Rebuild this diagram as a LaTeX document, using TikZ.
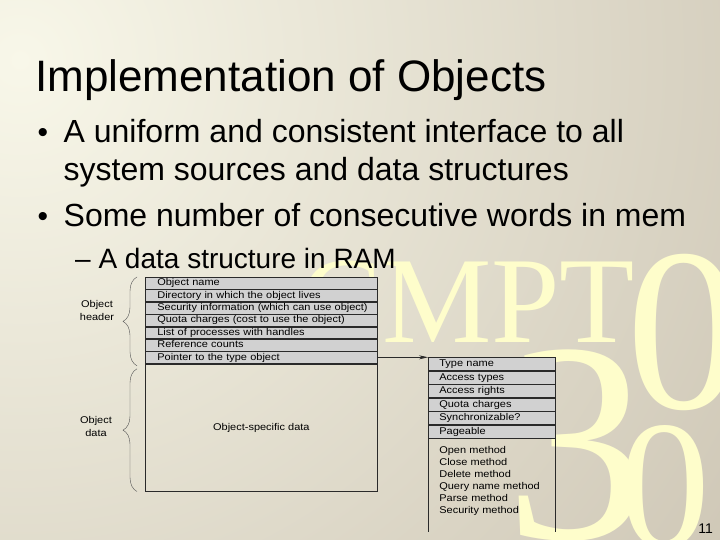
\documentclass[tikz,border=0pt]{standalone}
\usepackage{fontspec}
\setmainfont{Liberation Sans}
\newfontfamily\figfont[FakeStretch=1.12]{Liberation Sans}
\newfontfamily\wmfont{Liberation Serif}
\usetikzlibrary{arrows.meta, positioning, decorations.pathreplacing}
\definecolor{bgCream}{HTML}{F8F7E9}
\definecolor{bgTan}{HTML}{BFB5A3}
\definecolor{wmYellow}{HTML}{FEFDCB}
\definecolor{rowGray}{HTML}{D1D1D1}
\definecolor{lineBlk}{HTML}{2A2A2A}
\definecolor{lineGray}{HTML}{555555}

\begin{document}
\begin{tikzpicture}[
x=1pt, y=-1pt,
slidetext/.style={anchor=base west, inner sep=0pt},
wm/.style={anchor=base west, inner sep=0pt, text=wmYellow},
rowbase/.style={draw=lineBlk, line width=0.7pt, fill=rowGray, inner xsep=0pt, inner ysep=0pt, text height=7.3pt, text depth=2.2pt, align=left, font=\figfont\fontsize{9.8}{11.8}\selectfont},
hrow/.style={rowbase, minimum height=11.7pt, text width=232pt, execute at begin node={\noindent\hspace*{12pt}}},
trow/.style={rowbase, minimum height=12.8pt, text width=127pt, execute at begin node={\noindent\hspace*{11pt}}},
bracelbl/.style={align=center, inner sep=0pt, font=\figfont\fontsize{9.8}{13}\selectfont},
brace/.style={decorate, decoration={brace, amplitude=14pt}, draw=lineGray, thin},
ptr/.style={-{Stealth[length=9pt, width=4pt]}, lineBlk, line width=0.7pt}
]
\useasboundingbox (0,0) rectangle (720,540);

\begin{scope}
\clip (0,0) rectangle (720,540);
\fill[bgTan] (0,0) rectangle (720,540);
\shade[inner color=bgCream, outer color=bgTan] (20,60) circle [radius=1200pt];
\node[wm, font=\wmfont\fontsize{123}{123}\selectfont] (wmcmpt) at (300,342) {CMPT};
\node[wm, font=\wmfont\fontsize{232}{232}\selectfont] (wmzeroa) at (626,408) {0};
\node[wm, font=\wmfont\fontsize{285}{285}\selectfont] (wmthree) at (505,538) {3};
\node[wm, font=\wmfont\fontsize{182}{182}\selectfont] (wmzerob) at (619,546) {0};
\end{scope}

\node[slidetext, font=\fontsize{44}{53}\selectfont] (title) at (35,92) {Implementation of Objects};
\node[slidetext, font=\fontsize{30}{36}\selectfont] (dot1) at (37.5,142.5) {•};
\node[slidetext, font=\fontsize{32}{38}\selectfont] (item1) at (63.5,142.5) {A uniform and consistent interface to all};
\node[slidetext, font=\fontsize{32}{38}\selectfont] (item1b) at (63.5,181) {system sources and data structures};
\node[slidetext, font=\fontsize{30}{36}\selectfont] (dot2) at (37.5,226.5) {•};
\node[slidetext, font=\fontsize{32}{38}\selectfont] (item2) at (63.5,226.5) {Some number of consecutive words in mem};
\node[slidetext, font=\fontsize{28}{34}\selectfont] (sub1) at (75,268) {– A data structure in RAM};
\node[slidetext, anchor=base east, font=\fontsize{14}{17}\selectfont] (pagenum) at (713,533) {11};

\node[hrow, anchor=north west] (h1) at (145,277) {Object name};
\node[hrow, below=0pt of h1] (h2) {Directory in which the object lives};
\node[hrow, below=0pt of h2] (h3) {Security information (which can use object)};
\node[hrow, below=0pt of h3] (h4) {Quota charges (cost to use the object)};
\node[hrow, below=0pt of h4] (h5) {List of processes with handles};
\node[hrow, below=0pt of h5] (h6) {Reference counts};
\node[hrow, below=0pt of h6] (h7) {Pointer to the type object};
\node[draw=lineBlk, line width=0.7pt, minimum width=232pt, minimum height=127pt, inner sep=0pt, below=0pt of h7, font=\figfont\fontsize{9.8}{11.8}\selectfont] (odata) {Object-specific data};

\draw[brace] ([xshift=-8pt, yshift=-2pt]h7.south west) -- ([xshift=-8pt]h1.north west);
\draw[brace] ([xshift=-8pt]odata.south west) -- ([xshift=-8pt, yshift=-5pt]odata.north west);
\node[bracelbl] (hdrlbl) at (97,310) {Object\\header};
\node[bracelbl] (datalbl) at (96,426) {Object\\data};

\node[trow, anchor=north west] (t1) at (428,357.3) {Type name};
\node[trow, below=0pt of t1] (t2) {Access types};
\node[trow, below=0pt of t2] (t3) {Access rights};
\node[trow, below=0pt of t3] (t4) {Quota charges};
\node[trow, below=0pt of t4] (t5) {Synchronizable?};
\node[trow, below=0pt of t5] (t6) {Pageable};
\node[below=0pt of t6, minimum height=85pt, text width=105pt, inner xsep=11pt, inner ysep=0pt, align=left, font=\figfont\fontsize{9.8}{12.06}\selectfont] (meth) {Open method\\Close method\\Delete method\\Query name method\\Parse method\\Security method};
\draw[lineBlk, line width=0.7pt] (meth.north west) -- ([yshift=-8pt]meth.south west);
\draw[lineBlk, line width=0.7pt] (meth.north east) -- ([yshift=-8pt]meth.south east);

\draw[ptr] (h7.east |- t1.north west) -- (t1.north west);
\end{tikzpicture}
\end{document}
